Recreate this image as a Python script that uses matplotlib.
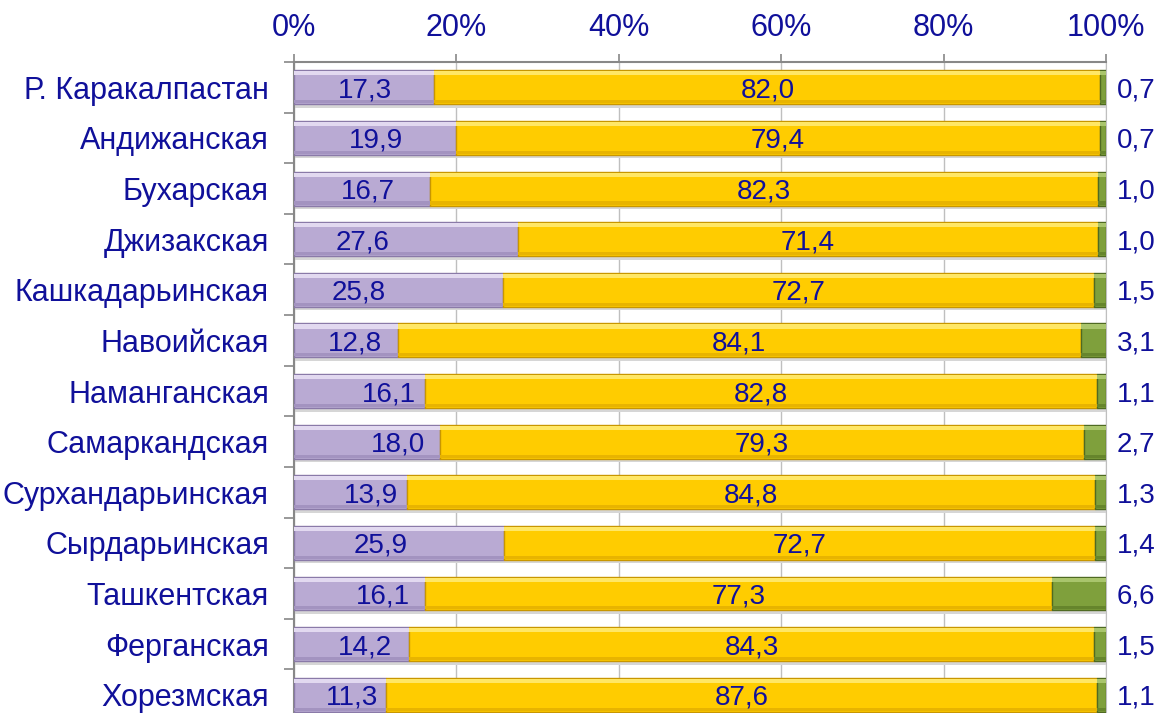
import numpy as np
import matplotlib.pyplot as plt


# --------------------------------------------------------------------------------------------------

regions = ['Р. Каракалпастан', 'Андижанская', 'Бухарская', 'Джизакская', 'Кашкадарьинская',
           'Навоийская', 'Наманганская', 'Самаркандская', 'Сурхандарьинская', 'Сырдарьинская',
           'Ташкентская', 'Ферганская', 'Хорезмская']
share_a = [17.3, 19.9, 16.7, 27.6, 25.8, 12.8, 16.1, 18.0, 13.9, 25.9, 16.1, 14.2, 11.3]
share_b = [82.0, 79.4, 82.3, 71.4, 72.7, 84.1, 82.8, 79.3, 84.8, 72.7, 77.3, 84.3, 87.6]
share_c = [0.7, 0.7, 1.0, 1.0, 1.5, 3.1, 1.1, 2.7, 1.3, 1.4, 6.6, 1.5, 1.1]
x_ticks = [0, 20, 40, 60, 80, 100]

# label positions of the first series (manually moved in the original)
label_x_a = [8.7, 10.1, 9.1, 8.4, 8.0, 7.5, 11.7, 12.8, 9.5, 10.7, 11.0, 8.7, 7.1]


# --------------------------------------------------------------------------------------------------

plt.rcParams['font.family'] = ['Liberation Sans', 'DejaVu Sans']
text_col = '#10109a'
fmt = lambda v: ('%.1f' % v).replace('.', ',')

fig = plt.figure(figsize=(11.61, 7.13), dpi=100)
ax = fig.add_axes([0.2532, -0.0098, 0.6994, 0.9228])

y = np.arange(len(regions))
h = 0.67
series = [(share_a, np.zeros(len(y)), '#b9aad3', '#8a7aa8', '#e2d9f0', '#a393c0'),
          (share_b, np.array(share_a), '#ffcc00', '#c89600', '#ffe766', '#e8b400'),
          (share_c, np.array(share_a) + np.array(share_b), '#7fa03c', '#4f6a22', '#a9c56c',
           '#66852c')]

for vals, left, col, edge, light, dark in series:
    # soft shadow
    ax.barh(y + 0.07, vals, left=left, height=h, color='#d6d6d6', zorder=2)
    ax.barh(y, vals, left=left, height=h, color=col, edgecolor=edge, linewidth=1.0, zorder=3)
    # bevel: highlight on top, darker strip at bottom
    ax.barh(y - h / 2 + 0.06, vals, left=left, height=0.08, color=light, linewidth=0, zorder=4)
    ax.barh(y + h / 2 - 0.05, vals, left=left, height=0.06, color=dark, linewidth=0, zorder=4)

# Value labels
# ------------
for i in range(len(y)):
    ax.text(label_x_a[i], y[i], fmt(share_a[i]), ha='center', va='center_baseline',
            fontsize=20, color=text_col, zorder=5)
    ax.text(share_a[i] + share_b[i] / 2, y[i], fmt(share_b[i]), ha='center',
            va='center_baseline', fontsize=20, color=text_col, zorder=5)
    ax.text(101.3, y[i], fmt(share_c[i]), ha='left', va='center_baseline',
            fontsize=20, color=text_col, clip_on=False, zorder=5)

# Axes styling
# ------------
ax.set_xlim(0, 100)
ax.set_ylim(len(y) - 0.5, -0.5)
ax.xaxis.tick_top()
ax.set_xticks(x_ticks)
ax.set_xticklabels(['%d%%' % t for t in x_ticks], fontsize=22, color=text_col)
ax.set_yticks(y)
ax.set_yticklabels(regions, fontsize=22, color=text_col)
ax.set_yticks(np.arange(len(y) + 1) - 0.5, minor=True)
ax.tick_params(axis='y', which='major', length=0, pad=18)
ax.tick_params(axis='y', which='minor', length=7, color='#888888', width=1.2)
ax.tick_params(axis='x', length=6, color='#888888', width=1.2, pad=8)
ax.grid(axis='x', color='#bfbfbf', linewidth=1.0, zorder=0)
ax.set_axisbelow(True)
for side in ['left', 'top']:
    ax.spines[side].set_color('#888888')
    ax.spines[side].set_linewidth(1.5)
ax.spines['right'].set_color('#bfbfbf')
ax.spines['bottom'].set_visible(False)

plt.savefig('out.png', dpi=100)
plt.close('all')
